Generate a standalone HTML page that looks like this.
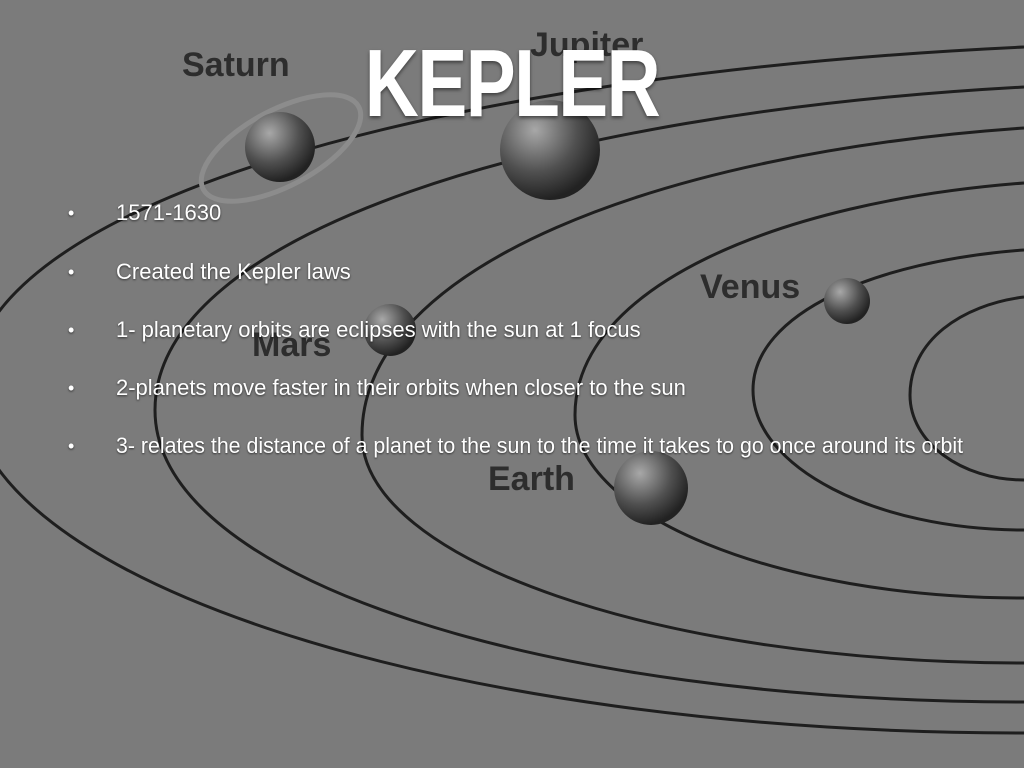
<!DOCTYPE html>
<html><head><style>
body{margin:0;width:1024px;height:768px;overflow:hidden;background:#7b7b7b;font-family:"Liberation Sans",sans-serif;position:relative;}
.t{position:absolute;color:#fff;white-space:nowrap;}
.title{left:0;width:1024px;text-align:center;top:29px;font-size:96px;line-height:110px;font-weight:bold;letter-spacing:-2px;transform:scaleX(0.78);text-shadow:0 2px 4px rgba(0,0,0,.5);}
.b{font-size:22px;line-height:26px;left:116px;transform-origin:left;text-shadow:0 1px 2px rgba(0,0,0,.6);}
.d{left:68px;font-size:18px;line-height:26px;text-shadow:0 1px 2px rgba(0,0,0,.6);}
</style></head><body>
<svg width="1024" height="768" style="position:absolute;left:0;top:0">
<defs><radialGradient id="g" cx="35%" cy="30%" r="70%"><stop offset="0" stop-color="#a8a8a8"/><stop offset="0.6" stop-color="#505050"/><stop offset="1" stop-color="#222"/></radialGradient></defs>
<g fill="none" stroke="#1e1e1e" stroke-width="3">
<path d="M1024,47 C444,74 -30,201 -30,390 C-30,579 444,733 1024,733"/>
<path d="M1024,87 C546,113 155,232 155,410 C155,580 546,702 1024,702"/>
<path d="M1024,128 C660,153 362,266 362,435 C362,560 660,663 1024,663"/>
<path d="M1024,183 C777,202 575,287 575,415 C575,515 777,598 1024,598"/>
<path d="M1024,250 C875,261 753,313 753,390 C753,467 875,530 1024,530"/>
<path d="M1024,297 C961,305 910,341 910,395 C910,442 961,480 1024,480"/>
</g>
<ellipse cx="281" cy="148" rx="88" ry="38" transform="rotate(-28 281 148)" fill="none" stroke="#8c8c8c" stroke-width="5"/>
<circle cx="280" cy="147" r="35" fill="url(#g)"/>
<circle cx="550" cy="150" r="50" fill="url(#g)"/>
<circle cx="390" cy="330" r="26" fill="url(#g)"/>
<circle cx="847" cy="301" r="23" fill="url(#g)"/>
<circle cx="651" cy="488" r="37" fill="url(#g)"/>
<g font-family="Liberation Sans,sans-serif" font-weight="bold" fill="#2d2d2d" font-size="34">
<text x="182" y="76">Saturn</text><text x="530" y="56">Jupiter</text>
<text x="700" y="298">Venus</text><text x="252" y="356">Mars</text><text x="488" y="490">Earth</text>
</g>
</svg>
<div class="t title">KEPLER</div>
<div class="t d" style="top:200px">•</div><div class="t b" style="top:200px">1571-1630</div>
<div class="t d" style="top:259px">•</div><div class="t b" style="top:259px">Created the Kepler laws</div>
<div class="t d" style="top:317px">•</div><div class="t b" style="top:317px">1- planetary orbits are eclipses with the sun at 1 focus</div>
<div class="t d" style="top:375px">•</div><div class="t b" style="top:375px">2-planets move faster in their orbits when closer to the sun</div>
<div class="t d" style="top:433px">•</div><div class="t b" style="top:433px;transform:scaleX(0.97)">3- relates the distance of a planet to the sun to the time it takes to go once around its orbit</div>
</body></html>
